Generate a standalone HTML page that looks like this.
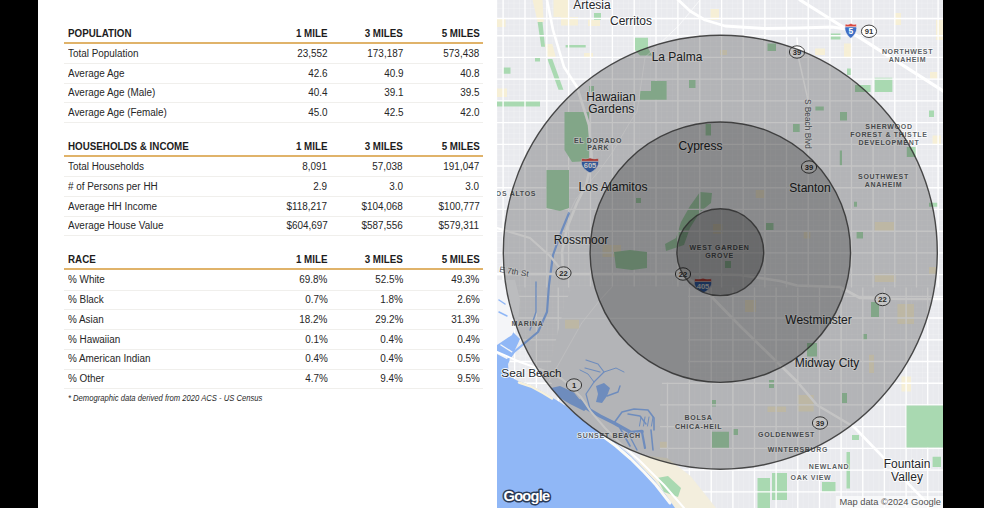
<!DOCTYPE html>
<html><head><meta charset="utf-8"><title>Demographics</title>
<style>
html,body{margin:0;padding:0;background:#000;}
body{width:984px;height:508px;overflow:hidden;position:relative;font-family:"Liberation Sans",sans-serif;}
#panel{position:absolute;left:38px;top:0;width:459px;height:508px;background:#fff;}
.h,.t,.fn{position:absolute;white-space:nowrap;line-height:14px;height:14px;}
.h{font-weight:bold;font-size:11px;color:#1c1c1c;transform:scaleX(.89);}
.t{font-size:10px;color:#262626;transform:scaleX(.99);}
.l{left:68px;transform-origin:0 50%;}
.r{transform-origin:100% 50%;text-align:right;}
.ol{position:absolute;left:64px;width:419px;height:2px;background:#e0b36a;}
.sl{position:absolute;left:64px;width:419px;height:1px;background:#f0efec;}
.fn{left:68px;font-size:8.7px;font-style:italic;color:#2a2a2a;transform:scaleX(.88);transform-origin:0 50%;}
#map{position:absolute;left:497px;top:0;}
#map text{font-family:"Liberation Sans",sans-serif;}
#map .c{text-anchor:middle;fill:#25272a;stroke:#fff;stroke-opacity:.85;stroke-width:2;paint-order:stroke;stroke-linejoin:round;}
#map .n{text-anchor:middle;font-weight:bold;fill:#5b5f64;stroke:#fff;stroke-opacity:.8;stroke-width:1.6;paint-order:stroke;stroke-linejoin:round;}
#map .rd{fill:#55595e;stroke:#fff;stroke-opacity:.8;stroke-width:1.6;paint-order:stroke;}
#map .s{text-anchor:middle;font-weight:bold;}
</style></head>
<body>
<div id="panel"></div>
<div class="h l" style="top:25.7px">POPULATION</div>
<div class="h r" style="top:25.7px;right:656.7px">1 MILE</div>
<div class="h r" style="top:25.7px;right:581px">3 MILES</div>
<div class="h r" style="top:25.7px;right:504.7px">5 MILES</div>
<div class="ol" style="top:42.3px"></div>
<div class="t l" style="top:46.7px">Total Population</div>
<div class="t r" style="top:46.7px;right:656.7px">23,552</div>
<div class="t r" style="top:46.7px;right:581px">173,187</div>
<div class="t r" style="top:46.7px;right:504.7px">573,438</div>
<div class="sl" style="top:62.8px"></div>
<div class="t l" style="top:66.5px">Average Age</div>
<div class="t r" style="top:66.5px;right:656.7px">42.6</div>
<div class="t r" style="top:66.5px;right:581px">40.9</div>
<div class="t r" style="top:66.5px;right:504.7px">40.8</div>
<div class="sl" style="top:82.5px"></div>
<div class="t l" style="top:86.2px">Average Age (Male)</div>
<div class="t r" style="top:86.2px;right:656.7px">40.4</div>
<div class="t r" style="top:86.2px;right:581px">39.1</div>
<div class="t r" style="top:86.2px;right:504.7px">39.5</div>
<div class="sl" style="top:102.3px"></div>
<div class="t l" style="top:106.0px">Average Age (Female)</div>
<div class="t r" style="top:106.0px;right:656.7px">45.0</div>
<div class="t r" style="top:106.0px;right:581px">42.5</div>
<div class="t r" style="top:106.0px;right:504.7px">42.0</div>
<div class="sl" style="top:122.0px"></div>
<div class="h l" style="top:138.7px">HOUSEHOLDS & INCOME</div>
<div class="h r" style="top:138.7px;right:656.7px">1 MILE</div>
<div class="h r" style="top:138.7px;right:581px">3 MILES</div>
<div class="h r" style="top:138.7px;right:504.7px">5 MILES</div>
<div class="ol" style="top:155.3px"></div>
<div class="t l" style="top:160.0px">Total Households</div>
<div class="t r" style="top:160.0px;right:656.7px">8,091</div>
<div class="t r" style="top:160.0px;right:581px">57,038</div>
<div class="t r" style="top:160.0px;right:504.7px">191,047</div>
<div class="sl" style="top:176.1px"></div>
<div class="t l" style="top:179.8px"># of Persons per HH</div>
<div class="t r" style="top:179.8px;right:656.7px">2.9</div>
<div class="t r" style="top:179.8px;right:581px">3.0</div>
<div class="t r" style="top:179.8px;right:504.7px">3.0</div>
<div class="sl" style="top:195.8px"></div>
<div class="t l" style="top:199.5px">Average HH Income</div>
<div class="t r" style="top:199.5px;right:656.7px">$118,217</div>
<div class="t r" style="top:199.5px;right:581px">$104,068</div>
<div class="t r" style="top:199.5px;right:504.7px">$100,777</div>
<div class="sl" style="top:215.6px"></div>
<div class="t l" style="top:219.2px">Average House Value</div>
<div class="t r" style="top:219.2px;right:656.7px">$604,697</div>
<div class="t r" style="top:219.2px;right:581px">$587,556</div>
<div class="t r" style="top:219.2px;right:504.7px">$579,311</div>
<div class="sl" style="top:235.3px"></div>
<div class="h l" style="top:251.7px">RACE</div>
<div class="h r" style="top:251.7px;right:656.7px">1 MILE</div>
<div class="h r" style="top:251.7px;right:581px">3 MILES</div>
<div class="h r" style="top:251.7px;right:504.7px">5 MILES</div>
<div class="ol" style="top:268.3px"></div>
<div class="t l" style="top:273.4px">% White</div>
<div class="t r" style="top:273.4px;right:656.7px">69.8%</div>
<div class="t r" style="top:273.4px;right:581px">52.5%</div>
<div class="t r" style="top:273.4px;right:504.7px">49.3%</div>
<div class="sl" style="top:289.5px"></div>
<div class="t l" style="top:293.1px">% Black</div>
<div class="t r" style="top:293.1px;right:656.7px">0.7%</div>
<div class="t r" style="top:293.1px;right:581px">1.8%</div>
<div class="t r" style="top:293.1px;right:504.7px">2.6%</div>
<div class="sl" style="top:309.2px"></div>
<div class="t l" style="top:312.9px">% Asian</div>
<div class="t r" style="top:312.9px;right:656.7px">18.2%</div>
<div class="t r" style="top:312.9px;right:581px">29.2%</div>
<div class="t r" style="top:312.9px;right:504.7px">31.3%</div>
<div class="sl" style="top:329.0px"></div>
<div class="t l" style="top:332.6px">% Hawaiian</div>
<div class="t r" style="top:332.6px;right:656.7px">0.1%</div>
<div class="t r" style="top:332.6px;right:581px">0.4%</div>
<div class="t r" style="top:332.6px;right:504.7px">0.4%</div>
<div class="sl" style="top:348.8px"></div>
<div class="t l" style="top:352.4px">% American Indian</div>
<div class="t r" style="top:352.4px;right:656.7px">0.4%</div>
<div class="t r" style="top:352.4px;right:581px">0.4%</div>
<div class="t r" style="top:352.4px;right:504.7px">0.5%</div>
<div class="sl" style="top:368.5px"></div>
<div class="t l" style="top:372.1px">% Other</div>
<div class="t r" style="top:372.1px;right:656.7px">4.7%</div>
<div class="t r" style="top:372.1px;right:581px">9.4%</div>
<div class="t r" style="top:372.1px;right:504.7px">9.5%</div>
<div class="sl" style="top:388.2px"></div>
<div class="fn" style="top:391px">* Demographic data derived from 2020 ACS - US Census</div>
<svg id="map" width="446" height="508" viewBox="497 0 446 508">
<rect x="497" y="0" width="446" height="508" fill="#e9eaee"/>
<path d="M497.6 0V287.5 M508.6 0V287.5 M498.2 287.5V508 M514.0 0V287.5 M503.6 287.5V508 M519.5 0V287.5 M509.1 287.5V508 M530.4 0V287.5 M520.0 287.5V508 M535.9 0V287.5 M525.5 287.5V508 M541.3 0V287.5 M530.9 287.5V508 M552.3 0V287.5 M541.9 287.5V508 M557.7 0V287.5 M547.3 287.5V508 M563.2 0V287.5 M552.8 287.5V508 M574.1 0V287.5 M563.7 287.5V508 M579.6 0V287.5 M569.2 287.5V508 M585.0 0V287.5 M574.6 287.5V508 M596.0 0V287.5 M585.6 287.5V508 M601.4 0V287.5 M591.0 287.5V508 M606.9 0V287.5 M596.5 287.5V508 M617.8 0V287.5 M607.4 287.5V508 M623.3 0V287.5 M612.9 287.5V508 M628.7 0V287.5 M618.3 287.5V508 M639.7 0V287.5 M629.3 287.5V508 M645.1 0V287.5 M634.7 287.5V508 M650.6 0V287.5 M640.2 287.5V508 M661.5 0V287.5 M651.1 287.5V508 M667.0 0V287.5 M656.6 287.5V508 M497 3.1H943 M672.4 0V287.5 M662.0 287.5V508 M497 8.5H943 M683.4 0V287.5 M673.0 287.5V508 M497 19.4H943 M688.8 0V287.5 M678.4 287.5V508 M497 24.8H943 M694.3 0V287.5 M683.9 287.5V508 M497 30.2H943 M705.2 0V287.5 M694.8 287.5V508 M497 41.1H943 M710.7 0V287.5 M700.3 287.5V508 M497 46.5H943 M716.1 0V287.5 M705.7 287.5V508 M497 52.0H943 M727.0 0V287.5 M716.6 287.5V508 M497 62.8H943 M732.4 0V287.5 M722.0 287.5V508 M497 68.3H943 M737.8 0V287.5 M727.4 287.5V508 M497 73.7H943 M748.7 0V287.5 M738.3 287.5V508 M497 84.5H943 M754.1 0V287.5 M743.7 287.5V508 M497 90.0H943 M759.5 0V287.5 M749.1 287.5V508 M497 95.4H943 M770.3 0V287.5 M759.9 287.5V508 M497 106.3H943 M775.7 0V287.5 M765.3 287.5V508 M497 111.7H943 M781.1 0V287.5 M770.7 287.5V508 M497 117.1H943 M792.0 0V287.5 M781.6 287.5V508 M497 128.0H943 M797.4 0V287.5 M787.0 287.5V508 M497 133.4H943 M802.8 0V287.5 M792.4 287.5V508 M497 138.8H943 M813.6 0V287.5 M803.2 287.5V508 M497 149.7H943 M819.0 0V287.5 M808.6 287.5V508 M497 155.1H943 M824.4 0V287.5 M814.0 287.5V508 M497 160.6H943 M835.3 0V287.5 M824.9 287.5V508 M497 171.4H943 M840.7 0V287.5 M830.3 287.5V508 M497 176.9H943 M846.1 0V287.5 M835.7 287.5V508 M497 182.3H943 M856.9 0V287.5 M846.5 287.5V508 M497 193.2H943 M862.3 0V287.5 M851.9 287.5V508 M497 198.6H943 M867.7 0V287.5 M857.3 287.5V508 M497 204.0H943 M878.6 0V287.5 M868.2 287.5V508 M497 214.9H943 M884.0 0V287.5 M873.6 287.5V508 M497 220.3H943 M889.4 0V287.5 M879.0 287.5V508 M497 225.7H943 M900.2 0V287.5 M889.8 287.5V508 M497 236.6H943 M905.6 0V287.5 M895.2 287.5V508 M497 242.0H943 M911.0 0V287.5 M900.6 287.5V508 M497 247.4H943 M921.9 0V287.5 M911.5 287.5V508 M497 258.3H943 M927.3 0V287.5 M916.9 287.5V508 M497 263.7H943 M932.7 0V287.5 M922.3 287.5V508 M497 269.2H943 M933.1 287.5V508 M497 280.0H943 M938.5 287.5V508 M497 285.5H943 M497 290.9H943 M497 301.8H943 M497 307.2H943 M497 312.6H943 M497 323.5H943 M497 328.9H943 M497 334.3H943 M497 345.2H943 M497 350.6H943 M497 356.0H943 M497 366.9H943 M497 372.3H943 M497 377.8H943" stroke="#fff" stroke-width="0.6" opacity="0.32" fill="none"/>
<path d="M497.0 18.4H505.6V27.0H497.0Z M497.0 88.5H507.0V97.0H497.0Z M553.5 0.0H568.0V17.0H553.5Z M561.0 17.0H578.0V25.5H561.0Z M588.0 19.7H600.0V26.0H588.0Z M584.0 53.0H593.0V58.0H584.0Z M710.6 9.0H719.0V20.0H710.6Z M720.0 50.0H727.0V55.0H720.0Z M815.0 48.5H825.0V55.0H815.0Z M844.0 43.5H852.0V57.0H844.0Z M894.0 13.0H901.0V25.0H894.0Z M930.0 72.0H937.6V78.7H930.0Z M932.6 135.6H941.0V144.0H932.6Z M602.5 245.0H621.0V257.0H602.5Z M755.7 190.0H765.0V198.0H755.7Z M713.0 224.0H722.6V233.7H713.0Z M874.7 222.0H894.0V232.0H874.7Z M874.7 273.8H895.8V282.0H874.7Z M897.4 304.0H914.0V324.0H897.4Z M803.7 232.0H810.4V238.6H803.7Z M929.0 267.0H936.0V273.8H929.0Z M767.5 406.6H786.0V412.0H767.5Z M660.0 441.8H667.8V448.5H660.0Z M869.0 354.7H874.0V373.0H869.0Z M901.5 376.5H911.0V391.6H901.5Z M797.0 395.0H813.7V411.6H797.0Z M745.0 300.0H756.0V312.0H745.0Z M936.0 20.0H943.0V40.0H936.0Z" fill="#f6efd6" />
<polygon points="532.6,0.0 542.5,0.0 543.7,22.0 537.6,22.0" fill="#f6efd6" />
<polygon points="545.0,44.0 552.3,44.0 556.0,57.8 547.4,57.8" fill="#f6efd6" />
<path d="M503.0 67.6H510.5V73.8H503.0Z M535.0 57.8H540.0V61.5H535.0Z M589.0 86.0H594.0V92.0H589.0Z M594.0 13.0H601.0V20.0H594.0Z M497.0 101.0H540.0V106.5H497.0Z M565.6 45.0H585.7V47.5H565.6Z M689.0 80.0H695.5V88.0H689.0Z M705.6 124.0H711.0V135.6H705.6Z M767.5 43.5H776.0V51.0H767.5Z M793.0 124.0H799.7V132.0H793.0Z M830.5 33.5H840.5V39.5H830.5Z M874.7 77.7H892.4V92.0H874.7Z M855.0 85.0H870.6V92.0H855.0Z M847.0 68.6H852.0V75.0H847.0Z M840.0 112.0H847.0V120.5H840.0Z M815.4 106.5H823.8V110.5H815.4Z M929.0 110.5H934.0V117.0H929.0Z M906.8 147.0H915.8V157.0H906.8Z M839.8 150.6H842.0V165.7H839.8Z M636.0 198.0H641.0V203.0H636.0Z M505.0 282.0H514.0V290.5H505.0Z M587.0 294.0H592.0V299.0H587.0Z M766.0 223.0H773.5V230.0H766.0Z M725.0 261.0H731.0V268.0H725.0Z M856.6 232.0H863.0V238.6H856.6Z M871.0 302.0H879.0V317.0H871.0Z M854.0 201.8H857.0V206.8H854.0Z M929.0 202.8H937.6V206.8H929.0Z M862.0 334.0H867.0V340.0H862.0Z M712.0 431.7H729.0V448.5H712.0Z M712.0 400.0H716.0V406.6H712.0Z M733.0 429.0H738.0V435.0H733.0Z M769.0 380.0H774.0V388.0H769.0Z M807.0 343.0H817.0V356.4H807.0Z M842.0 393.0H847.0V403.0H842.0Z M852.0 435.0H859.0V440.0H852.0Z M846.5 452.0H850.0V488.6H846.5Z M822.0 482.0H835.5V492.0H822.0Z M932.6 456.8H941.0V467.0H932.6Z M757.5 478.0H770.0V508.0H757.5Z M772.0 473.0H787.0V500.0H772.0Z" fill="#a9d9b1" />
<polygon points="537.6,22.0 542.5,22.0 545.0,46.7 541.2,46.7" fill="#a9d9b1" />
<polygon points="547.4,59.0 552.3,59.0 563.4,89.7 558.5,89.7" fill="#a9d9b1" />
<polygon points="700.0,192.0 712.0,193.0 711.0,203.0 700.0,212.0 690.0,228.0 684.0,245.0 666.0,251.0 665.0,244.0 676.0,238.0 681.0,222.0 690.0,206.0" fill="#a9d9b1" />
<path d="M503.1 0V287.5 M525.0 0V287.5 M514.6 287.5V508 M546.8 0V287.5 M536.4 287.5V508 M568.6 0V287.5 M558.2 287.5V508 M590.5 0V287.5 M580.1 287.5V508 M612.4 0V287.5 M602.0 287.5V508 M634.2 0V287.5 M623.8 287.5V508 M656.0 0V287.5 M645.6 287.5V508 M677.9 0V287.5 M667.5 287.5V508 M699.8 0V287.5 M689.4 287.5V508 M721.6 0V287.5 M711.2 287.5V508 M743.2 0V287.5 M732.9 287.5V508 M764.9 0V287.5 M754.5 287.5V508 M786.5 0V287.5 M776.1 287.5V508 M808.2 0V287.5 M797.8 287.5V508 M829.9 0V287.5 M819.5 287.5V508 M851.5 0V287.5 M841.1 287.5V508 M873.1 0V287.5 M862.8 287.5V508 M894.8 0V287.5 M884.4 287.5V508 M916.5 0V287.5 M906.1 287.5V508 M938.1 0V287.5 M927.7 287.5V508 M497 18.5H943 M497 35.7H943 M497 57.4H943 M497 79.1H943 M497 100.8H943 M497 122.6H943 M497 144.3H943 M497 166.0H943 M497 187.7H943 M497 209.4H943 M497 231.2H943 M497 252.9H943 M497 274.6H943 M497 296.3H943 M497 318.0H943 M497 339.8H943 M497 361.5H943 M497 383.2H943 M497 404.9H943 M497 426.6H943 M497 448.4H943 M497 470.1H943 M497 491.8H943" stroke="#fff" stroke-width="1.35" fill="none"/>
<path d="M906.5 405.5H943.0V447.5H906.5Z" fill="#a9d9b1" />
<polygon points="651.0,81.0 666.6,81.0 666.6,99.7 640.0,99.7 640.0,91.0 651.0,91.0" fill="#a9d9b1" />
<polygon points="635.0,37.7 648.0,37.7 648.0,48.0 652.0,55.4 640.0,55.4 635.0,50.0" fill="#a9d9b1" />
<polygon points="614.0,252.0 630.0,250.0 647.0,252.0 647.0,268.0 632.0,270.0 616.0,268.0" fill="#a9d9b1" />
<polygon points="564.5,112.0 589.0,112.0 589.0,161.0 572.0,162.0 564.5,150.0" fill="#a9d9b1" />
<polygon points="546.5,170.0 569.0,170.0 569.0,208.0 560.0,211.0 546.5,208.0" fill="#a9d9b1" />
<polyline points="797.0,38.0 798.5,58.0 808.0,100.0" fill="none" stroke="#fff" stroke-width="1.5" stroke-linejoin="round" stroke-linecap="round" />
<polygon points="574.0,286.5 688.0,286.5 688.0,382.5 662.0,382.5 660.0,400.0 660.0,452.0 648.0,466.0 600.0,440.0 560.0,400.0 548.0,376.0 556.0,340.0 566.0,300.0" fill="#e9eaee" />
<polygon points="640.0,455.0 667.0,458.0 690.5,476.0 716.0,508.0 640.0,508.0" fill="#f3eedd" />
<polygon points="657.0,478.0 668.0,476.0 681.0,488.0 678.0,497.0 664.0,492.0" fill="#a9d9b1" />
<polygon points="497.0,322.0 506.0,326.0 514.0,333.0 520.0,339.0 514.0,352.0 508.0,364.0 509.0,376.0 517.0,380.5 530.0,385.0 543.0,392.0 553.0,398.0 565.0,405.5 583.6,421.0 600.0,432.7 614.0,442.0 631.0,456.0 642.7,468.0 655.0,481.0 666.0,495.0 675.0,508.0 497.0,508.0" fill="#90b7f6" />
<polygon points="497.0,280.0 515.0,280.0 520.0,300.0 518.0,322.0 512.0,335.0 497.0,345.0" fill="#f4f5f8" />
<polyline points="497.0,353.0 510.5,360.0" fill="none" stroke="#f4f5f8" stroke-width="1.6" stroke-linejoin="round" stroke-linecap="round" />
<polyline points="501.0,345.0 512.0,352.0" fill="none" stroke="#f4f5f8" stroke-width="1.4" stroke-linejoin="round" stroke-linecap="round" />
<polyline points="499.0,300.0 505.0,304.0" fill="none" stroke="#90b7f6" stroke-width="1.5" stroke-linejoin="round" stroke-linecap="round" />
<polyline points="499.0,312.0 507.0,316.0" fill="none" stroke="#90b7f6" stroke-width="1.5" stroke-linejoin="round" stroke-linecap="round" />
<polyline points="519.0,382.5 531.0,386.5 543.0,393.0 552.0,398.5" fill="none" stroke="#f7f1dc" stroke-width="2.5" stroke-linejoin="round" stroke-linecap="round" />
<polyline points="604.0,437.0 616.0,446.0 631.0,459.0 644.0,472.0 656.0,485.0 670.0,503.0" fill="none" stroke="#fbfaf6" stroke-width="3" stroke-linejoin="round" stroke-linecap="round" />
<polyline points="569.0,213.0 562.0,230.0 553.0,255.0 549.0,285.0 547.0,312.0 538.0,332.0 514.0,352.0 503.0,366.0" fill="none" stroke="#90b7f6" stroke-width="2.2" stroke-linejoin="round" stroke-linecap="round" />
<polyline points="536.0,282.0 536.0,312.0 530.0,330.0" fill="none" stroke="#90b7f6" stroke-width="1.4" stroke-linejoin="round" stroke-linecap="round" />
<polygon points="551.0,388.0 560.0,386.0 574.0,392.5 580.0,400.0 588.0,408.0 584.0,411.0 570.0,404.0 560.0,398.0" fill="#90b7f6" />
<polyline points="580.0,401.0 588.0,409.0 600.0,416.0 614.0,423.0 631.0,432.5 642.0,431.5" fill="none" stroke="#90b7f6" stroke-width="3.6" stroke-linejoin="round" stroke-linecap="round" />
<polygon points="596.0,386.0 604.0,383.0 610.0,388.0 607.0,396.0 602.0,403.0 596.0,402.0 598.0,394.0" fill="#90b7f6" />
<polyline points="590.0,409.0 586.0,394.0 594.0,382.0 604.0,372.0 598.0,364.0 586.0,360.0" fill="none" stroke="#90b7f6" stroke-width="1.2" stroke-linejoin="round" stroke-linecap="round" />
<polyline points="594.0,382.0 588.0,374.0 580.0,370.0" fill="none" stroke="#90b7f6" stroke-width="1" stroke-linejoin="round" stroke-linecap="round" />
<polyline points="604.0,372.0 616.0,368.0 624.0,372.0" fill="none" stroke="#90b7f6" stroke-width="1" stroke-linejoin="round" stroke-linecap="round" />
<polyline points="607.0,396.0 618.0,392.0 620.0,386.0" fill="none" stroke="#90b7f6" stroke-width="1.4" stroke-linejoin="round" stroke-linecap="round" />
<polyline points="614.0,423.0 622.0,412.0 634.0,409.0 648.0,410.0 654.0,418.0 654.0,430.0" fill="none" stroke="#90b7f6" stroke-width="1.6" stroke-linejoin="round" stroke-linecap="round" />
<polyline points="628.0,414.0 640.0,416.0 646.0,424.0" fill="none" stroke="#90b7f6" stroke-width="1.4" stroke-linejoin="round" stroke-linecap="round" />
<polyline points="641.0,417.0 639.5,426.0" fill="none" stroke="#90b7f6" stroke-width="1" stroke-linejoin="round" stroke-linecap="round" />
<polyline points="645.0,417.0 643.5,426.0" fill="none" stroke="#90b7f6" stroke-width="1" stroke-linejoin="round" stroke-linecap="round" />
<polyline points="649.0,417.0 647.5,426.0" fill="none" stroke="#90b7f6" stroke-width="1" stroke-linejoin="round" stroke-linecap="round" />
<polyline points="653.0,417.0 651.5,426.0" fill="none" stroke="#90b7f6" stroke-width="1" stroke-linejoin="round" stroke-linecap="round" />
<polyline points="642.0,432.0 645.0,448.0" fill="none" stroke="#90b7f6" stroke-width="2.2" stroke-linejoin="round" stroke-linecap="round" />
<polyline points="651.0,430.0 653.0,450.0" fill="none" stroke="#90b7f6" stroke-width="1.6" stroke-linejoin="round" stroke-linecap="round" />
<polyline points="620.0,428.0 630.0,446.0" fill="none" stroke="#90b7f6" stroke-width="1.6" stroke-linejoin="round" stroke-linecap="round" />
<polyline points="627.0,431.0 637.0,450.0" fill="none" stroke="#90b7f6" stroke-width="1.4" stroke-linejoin="round" stroke-linecap="round" />
<polyline points="585.0,368.0 600.0,372.0" fill="none" stroke="#90b7f6" stroke-width="1.2" stroke-linejoin="round" stroke-linecap="round" />
<polyline points="548.0,318.4 688.0,318.4" fill="none" stroke="#fff" stroke-width="1.1" stroke-linejoin="round" stroke-linecap="round" opacity="0.55"/>
<polyline points="581.4,323.5 558.4,364.4 549.0,381.0" fill="none" stroke="#fff" stroke-width="1.1" stroke-linejoin="round" stroke-linecap="round" opacity="0.55"/>
<polyline points="581.4,323.5 600.0,300.0 612.0,287.0" fill="none" stroke="#fff" stroke-width="1.1" stroke-linejoin="round" stroke-linecap="round" opacity="0.55"/>
<path d="M565.0 319.7H579.0V328.6H565.0Z" fill="#f6efd6" />
<polyline points="700.0,0.0 678.4,26.0 645.0,57.4 641.0,85.0 637.0,112.0 630.0,122.0 612.0,153.0 599.4,170.4 576.0,199.0 569.0,213.0" fill="none" stroke="#fff" stroke-width="0.9" stroke-linejoin="round" stroke-linecap="round" opacity="0.7"/>
<polyline points="547.0,0.0 553.0,30.0 564.0,67.0 577.0,87.0 589.0,125.0 592.0,160.0 586.0,185.0 577.0,203.0 567.0,228.0 562.0,252.0 563.0,272.0" fill="none" stroke="#fff" stroke-width="2.6" stroke-linejoin="round" stroke-linecap="round" />
<polyline points="800.0,0.0 820.0,12.5 856.6,35.6 943.0,91.0 960.0,102.0" fill="none" stroke="#fff" stroke-width="3.2" stroke-linejoin="round" stroke-linecap="round" />
<polyline points="672.0,-6.0 690.0,11.0 705.0,20.0 725.0,26.0 764.0,28.5 800.0,28.0 832.0,27.0 846.0,29.0" fill="none" stroke="#fff" stroke-width="2.8" stroke-linejoin="round" stroke-linecap="round" />
<polyline points="497.0,228.0 530.0,238.0 550.0,256.0 563.0,272.0" fill="none" stroke="#fff" stroke-width="2.2" stroke-linejoin="round" stroke-linecap="round" />
<polyline points="497.0,274.0 563.0,274.0 683.0,274.0 740.0,275.0 780.0,281.0 797.0,285.5 840.0,287.0 860.0,298.0 900.0,299.0 943.0,299.0" fill="none" stroke="#fff" stroke-width="2.6" stroke-linejoin="round" stroke-linecap="round" />
<polyline points="683.0,275.0 703.0,288.0 740.0,326.0 797.0,381.5 817.0,405.0 854.0,427.0 881.0,455.0 914.0,489.6 935.0,511.0" fill="none" stroke="#fff" stroke-width="2.6" stroke-linejoin="round" stroke-linecap="round" />
<polyline points="497.0,352.0 520.0,362.0 548.0,372.0 562.0,379.0 569.5,385.4 581.0,397.0 590.7,411.4 605.0,428.0 621.4,444.5 640.0,461.0 664.0,485.0 684.0,508.0" fill="none" stroke="#fff" stroke-width="2" stroke-linejoin="round" stroke-linecap="round" />
<text class="c" x="592" y="9.3" font-size="12">Artesia</text>
<text class="c" x="631" y="25.3" font-size="12">Cerritos</text>
<text class="c" x="677" y="61.3" font-size="12">La Palma</text>
<text class="c" x="611" y="100.8" font-size="12">Hawaiian</text>
<text class="c" x="611.3" y="113.3" font-size="12">Gardens</text>
<text class="c" x="700.5" y="150.3" font-size="12">Cypress</text>
<text class="c" x="613" y="191.4" font-size="12.2">Los Alamitos</text>
<text class="c" x="581" y="244.3" font-size="12">Rossmoor</text>
<text class="c" x="531.5" y="377.2" font-size="11.8">Seal Beach</text>
<text class="c" x="818.5" y="323.8" font-size="12">Westminster</text>
<text class="c" x="827" y="366.8" font-size="12">Midway City</text>
<text class="c" x="810" y="192.3" font-size="12">Stanton</text>
<text class="c" x="907" y="467.8" font-size="12">Fountain</text>
<text class="c" x="907" y="480.8" font-size="12">Valley</text>
<text class="n" x="598" y="142.7" font-size="7.0" letter-spacing="0.7">EL DORADO</text>
<text class="n" x="598.3" y="150.3" font-size="7.0" letter-spacing="0.7">PARK</text>
<text class="n" x="516" y="196.0" font-size="7.0" letter-spacing="0.68">OS ALTOS</text>
<text class="n" x="719.5" y="249.5" font-size="7.0" letter-spacing="0.68">WEST GARDEN</text>
<text class="n" x="719.5" y="258.0" font-size="7.0" letter-spacing="0.68">GROVE</text>
<text class="n" x="527.5" y="326.0" font-size="7.0" letter-spacing="0.68">MARINA</text>
<text class="n" x="609" y="438.0" font-size="7.0" letter-spacing="0.68">SUNSET BEACH</text>
<text class="n" x="698.5" y="420.0" font-size="7.0" letter-spacing="0.68">BOLSA</text>
<text class="n" x="698.5" y="428.5" font-size="7.0" letter-spacing="0.68">CHICA-HEIL</text>
<text class="n" x="786.5" y="437.0" font-size="7.0" letter-spacing="0.68">GOLDENWEST</text>
<text class="n" x="798" y="451.5" font-size="7.0" letter-spacing="0.68">WINTERSBURG</text>
<text class="n" x="829" y="468.5" font-size="7.0" letter-spacing="0.68">NEWLAND</text>
<text class="n" x="811" y="479.5" font-size="7.0" letter-spacing="0.68">OAK VIEW</text>
<text class="n" x="883.5" y="179.0" font-size="7.0" letter-spacing="0.68">SOUTHWEST</text>
<text class="n" x="883.5" y="187.0" font-size="7.0" letter-spacing="0.68">ANAHEIM</text>
<text class="n" x="889" y="128.5" font-size="7.0" letter-spacing="0.68">SHERWOOD</text>
<text class="n" x="889" y="136.5" font-size="7.0" letter-spacing="0.68">FOREST &amp; THISTLE</text>
<text class="n" x="889" y="144.5" font-size="7.0" letter-spacing="0.68">DEVELOPMENT</text>
<text class="n" x="907.5" y="53.5" font-size="7.0" letter-spacing="0.68">NORTHWEST</text>
<text class="n" x="907.5" y="61.5" font-size="7.0" letter-spacing="0.68">ANAHEIM</text>
<text class="rd" transform="translate(805.3,99) rotate(90)" font-size="8.3">S Beach Blvd</text>
<text class="rd" transform="translate(499,272) rotate(9)" font-size="8.3">E 7th St</text>
<ellipse cx="869" cy="31.3" rx="7.6" ry="6.2" fill="#fff" stroke="#444" stroke-width="1"/><text class="s" x="869" y="34.0" font-size="7.6" fill="#333">91</text>
<ellipse cx="797" cy="52" rx="7.6" ry="6.2" fill="#fff" stroke="#444" stroke-width="1"/><text class="s" x="797" y="54.7" font-size="7.6" fill="#333">39</text>
<ellipse cx="809" cy="167" rx="7.6" ry="6.2" fill="#fff" stroke="#444" stroke-width="1"/><text class="s" x="809" y="169.7" font-size="7.6" fill="#333">39</text>
<ellipse cx="563.5" cy="273" rx="7.6" ry="6.2" fill="#fff" stroke="#444" stroke-width="1"/><text class="s" x="563.5" y="275.7" font-size="7.6" fill="#333">22</text>
<ellipse cx="683" cy="274" rx="7.6" ry="6.2" fill="#fff" stroke="#444" stroke-width="1"/><text class="s" x="683" y="276.7" font-size="7.6" fill="#333">22</text>
<ellipse cx="882.5" cy="299.5" rx="7.6" ry="6.2" fill="#fff" stroke="#444" stroke-width="1"/><text class="s" x="882.5" y="302.2" font-size="7.6" fill="#333">22</text>
<ellipse cx="574" cy="385" rx="7.6" ry="6.2" fill="#fff" stroke="#444" stroke-width="1"/><text class="s" x="574" y="387.7" font-size="7.6" fill="#333">1</text>
<ellipse cx="820" cy="423" rx="7.6" ry="6.2" fill="#fff" stroke="#444" stroke-width="1"/><text class="s" x="820" y="425.7" font-size="7.6" fill="#333">39</text>
<path d="M845.0 26.7H856.6C857.5 31.6 854.0 36.2 850.8 38.3C847.6 36.2 844.1 31.6 845.0 26.7Z" fill="#3f6fc4" stroke="#f4f6fb" stroke-width="0.7"/><path d="M845.0 26.7L845.4 24.0Q847.9 25.0 850.8 23.5Q853.7 25.0 856.2 24.0L856.6 26.7Z" fill="#d9483f" stroke="#f4f6fb" stroke-width="0.5"/><text class="s" x="850.8" y="33.9" font-size="8.4" fill="#fff">5</text>
<path d="M581.4 161.2H598.6C599.5 166.1 594.8 170.7 590.0 172.8C585.2 170.7 580.5 166.1 581.4 161.2Z" fill="#3f6fc4" stroke="#f4f6fb" stroke-width="0.7"/><path d="M581.4 161.2L581.8 158.5Q585.7 159.5 590.0 158.0Q594.3 159.5 598.2 158.5L598.6 161.2Z" fill="#d9483f" stroke="#f4f6fb" stroke-width="0.5"/><text class="s" x="590" y="168.4" font-size="7.6" fill="#fff">605</text>
<path d="M694.4 281.4H711.6C712.5 286.2 707.8 290.9 703.0 293.0C698.2 290.9 693.5 286.2 694.4 281.4Z" fill="#3f6fc4" stroke="#f4f6fb" stroke-width="0.7"/><path d="M694.4 281.4L694.8 278.7Q698.7 279.7 703.0 278.2Q707.3 279.7 711.2 278.7L711.6 281.4Z" fill="#d9483f" stroke="#f4f6fb" stroke-width="0.5"/><text class="s" x="703" y="288.6" font-size="7.6" fill="#fff">405</text>
<g fill="#000" fill-opacity="0.23" stroke="#2e2e2e" stroke-opacity="0.85" stroke-width="1.4">
<circle cx="720.3" cy="252.2" r="217.0"/><circle cx="720.3" cy="252.2" r="130.2"/><circle cx="720.3" cy="252.2" r="43.4"/></g>
<rect x="836" y="496" width="107" height="12" fill="#fff" fill-opacity="0.65"/>
<text x="941" y="505" text-anchor="end" font-size="9.3" fill="#505050">Map data ©2024 Google</text>
<text x="503.6" y="501.2" font-size="14.6" font-weight="bold" letter-spacing="-0.75" fill="#fff" stroke="#2b3b56" stroke-width="3" paint-order="stroke" stroke-linejoin="round">Google</text>
</svg>
</body></html>
